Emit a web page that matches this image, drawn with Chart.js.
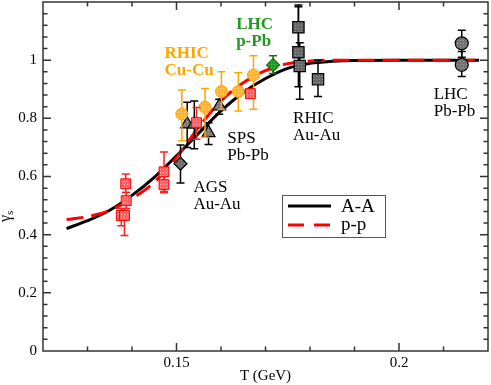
<!DOCTYPE html>
<html lang="en">
<head>
<meta charset="UTF-8">
<title>gamma_s vs T</title>
<script src="https://cdn.jsdelivr.net/npm/chart.js"></script>
<style>
  html, body { margin: 0; padding: 0; background: #fff; }
  #chart { display: block; }
</style>
</head>
<body>
<canvas id="chart" width="491" height="385"></canvas>
<script>
// fitted curves
const curveT  = [0.1253, 0.130, 0.135, 0.140, 0.145, 0.150, 0.155, 0.160, 0.165, 0.170, 0.175, 0.180, 0.185, 0.190, 0.200, 0.210, 0.218];
const aaCurve = [0.421, 0.448, 0.484, 0.535, 0.597, 0.671, 0.749, 0.826, 0.889, 0.937, 0.972, 0.989, 0.996, 0.999, 1.0, 1.0, 1.0];
const ppCurve = [0.452, 0.462, 0.483, 0.524, 0.580, 0.665, 0.770, 0.860, 0.922, 0.964, 0.988, 0.997, 1.0, 1.0, 1.0, 1.0, 1.0];

// p-p points (red squares)
const ppT    = [0.1376, 0.1383, 0.1387, 0.1386, 0.1472, 0.1472, 0.1545, 0.1666];
const ppG    = [0.466, 0.466, 0.517, 0.575, 0.616, 0.572, 0.785, 0.885];
const ppUp   = [0.490, 0.490, 0.545, 0.609, 0.684, 0.600, 0.837, 0.895];
const ppDown = [0.431, 0.397, 0.490, 0.545, 0.548, 0.544, 0.728, 0.875];

// RHIC Cu-Cu (orange circles)
const ccT    = [0.1512, 0.1564, 0.1601, 0.1639, 0.1673];
const ccG    = [0.815, 0.838, 0.892, 0.892, 0.949];
const ccUp   = [0.897, 0.903, 0.960, 0.957, 1.015];
const ccDown = [0.723, 0.735, 0.830, 0.825, 0.831];

// SPS Pb-Pb (triangles)
const spsT    = [0.1524, 0.1540, 0.1572, 0.1596];
const spsG    = [0.780, 0.780, 0.750, 0.842];
const spsUp   = [0.855, 0.860, 0.785, 0.866];
const spsDown = [0.700, 0.695, 0.710, 0.814];

// AGS Au-Au (diamond)
const agsT = [0.1509], agsG = [0.644], agsUp = [0.708], agsDown = [0.578];

// LHC p-Pb (green diamond)
const lhcpT = [0.1717], lhcpG = [0.983], lhcpUp = [1.015], lhcpDown = [0.954];

// RHIC Au-Au (dark squares)
const rhicT    = [0.1774, 0.1774, 0.1777, 0.1818];
const rhicG    = [1.113, 1.027, 0.980, 0.934];
const rhicUp   = [1.190, 1.184, 1.060, 1.000];
const rhicDown = [1.035, 0.909, 0.866, 0.875];

// LHC Pb-Pb (grey circles)
const lhcT    = [0.2141, 0.2141];
const lhcG    = [1.058, 0.984];
const lhcUp   = [1.103, 1.030];
const lhcDown = [1.010, 0.944];

// axis ticks
const xMajor = [0.15, 0.2];
const yMajor = [0, 0.2, 0.4, 0.6, 0.8, 1];

const SERIF = "'Liberation Serif', 'Times New Roman', serif";

// text labels placed in data coordinates
const notes = [
  { lines: ['RHIC', 'Cu-Cu'], x: 0.1473, y: 1.0086, color: '#ffa500', bold: true },
  { lines: ['LHC', 'p-Pb'],   x: 0.1634, y: 1.1086, color: '#229922', bold: true },
  { lines: ['SPS', 'Pb-Pb'],  x: 0.1614, y: 0.7138, color: '#000', bold: false },
  { lines: ['AGS', 'Au-Au'],  x: 0.1538, y: 0.5466, color: '#000', bold: false },
  { lines: ['RHIC', 'Au-Au'], x: 0.1762, y: 0.7852, color: '#000', bold: false },
  { lines: ['LHC', 'Pb-Pb'],  x: 0.2078, y: 0.8655, color: '#000', bold: false }
];

function pts(xs, ys) { return xs.map((x, i) => ({ x: x, y: ys[i] })); }

function isIn(list, v) { return list.some(t => Math.abs(t - v) < 1e-9); }

function dotPattern(base, dot) {
  const c = document.createElement('canvas');
  c.width = 3; c.height = 3;
  const g = c.getContext('2d');
  g.fillStyle = base; g.fillRect(0, 0, 3, 3);
  g.fillStyle = dot; g.fillRect(1, 1, 1, 1);
  return g.createPattern(c, 'repeat');
}

function markers(label, xs, ys, up, down, style) {
  return Object.assign({
    label: label,
    data: pts(xs, ys),
    showLine: false,
    errUp: up,
    errDown: down,
    order: 1
  }, style);
}

// error bars drawn just before each dataset's markers
const errorBars = {
  id: 'errorBars',
  beforeDatasetDraw(chart, args) {
    const ds = chart.data.datasets[args.index];
    if (!ds.errUp) return;
    const ctx = chart.ctx, xs = chart.scales.x, ys = chart.scales.y;
    ctx.save();
    ctx.strokeStyle = ds.errColor;
    ctx.lineWidth = 1.5;
    ds.data.forEach((p, i) => {
      const x = xs.getPixelForValue(p.x);
      const yt = ys.getPixelForValue(ds.errUp[i]);
      const yb = ys.getPixelForValue(ds.errDown[i]);
      ctx.beginPath();
      ctx.moveTo(x, yt); ctx.lineTo(x, yb);
      ctx.moveTo(x - 4, yt); ctx.lineTo(x + 4, yt);
      ctx.moveTo(x - 4, yb); ctx.lineTo(x + 4, yb);
      ctx.stroke();
    });
    ctx.restore();
  }
};

// frame, inward ticks, labels, legend, y title
const decor = {
  id: 'decor',
  beforeDatasetsDraw(chart) {
    const ctx = chart.ctx, xs = chart.scales.x, ys = chart.scales.y;
    ctx.save();
    ctx.textAlign = 'left';
    ctx.textBaseline = 'alphabetic';
    notes.forEach(n => {
      ctx.fillStyle = n.color;
      ctx.font = (n.bold ? 'bold ' : '') + '17px ' + SERIF;
      const x = xs.getPixelForValue(n.x);
      const y = ys.getPixelForValue(n.y);
      n.lines.forEach((t, k) => ctx.fillText(t, x, y + k * 17));
    });
    ctx.restore();
  },
  afterDatasetsDraw(chart) {
    const ctx = chart.ctx, a = chart.chartArea;
    const xs = chart.scales.x, ys = chart.scales.y;
    ctx.save();
    ctx.strokeStyle = '#333';
    ctx.lineWidth = 1.5;
    ctx.strokeRect(a.left, a.top, a.right - a.left, a.bottom - a.top);

    ctx.beginPath();
    for (let k = 13; k <= 21; k++) {
      const v = k / 100;
      const len = isIn(xMajor, v) ? 8 : 4.5;
      const px = xs.getPixelForValue(v);
      ctx.moveTo(px, a.bottom); ctx.lineTo(px, a.bottom - len);
      ctx.moveTo(px, a.top); ctx.lineTo(px, a.top + len);
    }
    for (let k = 1; k <= 29; k++) {
      const v = k * 0.04;
      const len = k % 5 === 0 ? 8 : 4.5;
      const py = ys.getPixelForValue(v);
      ctx.moveTo(a.left, py); ctx.lineTo(a.left + len, py);
      ctx.moveTo(a.right, py); ctx.lineTo(a.right - len, py);
    }
    ctx.stroke();

    // legend box
    const lx = 282, ly = 195, lw = 103, lh = 42;
    ctx.fillStyle = '#fff';
    ctx.fillRect(lx, ly, lw, lh);
    ctx.strokeStyle = '#555';
    ctx.lineWidth = 1;
    ctx.strokeRect(lx + 0.5, ly + 0.5, lw, lh);
    ctx.lineWidth = 3;
    ctx.strokeStyle = '#000';
    ctx.beginPath(); ctx.moveTo(288, 206); ctx.lineTo(331, 206); ctx.stroke();
    ctx.strokeStyle = '#ff0000';
    ctx.setLineDash([16, 10]);
    ctx.beginPath(); ctx.moveTo(288, 225); ctx.lineTo(331, 225); ctx.stroke();
    ctx.setLineDash([]);
    ctx.fillStyle = '#000';
    ctx.font = '19px ' + SERIF;
    ctx.textBaseline = 'middle';
    ctx.fillText('A-A', 341, 207);
    ctx.fillText('p-p', 341, 225);

    // axis titles
    ctx.textBaseline = 'alphabetic';
    ctx.textAlign = 'center';
    ctx.font = '15px ' + SERIF;
    ctx.fillText('T (GeV)', (a.left + a.right) / 2, 380);

    ctx.translate(10, 222);
    ctx.rotate(-Math.PI / 2);
    ctx.textAlign = 'left';
    ctx.font = '16px ' + SERIF;
    ctx.fillText('\u03b3', 0, 0);
    const w = ctx.measureText('\u03b3').width;
    ctx.font = '11px ' + SERIF;
    ctx.fillText('s', w, 3);
    ctx.restore();
  }
};

new Chart(document.getElementById('chart').getContext('2d'), {
  type: 'scatter',
  data: {
    datasets: [
      markers('p-p data', ppT, ppG, ppUp, ppDown, {
        pointStyle: 'rect', pointRadius: 7, borderWidth: 1,
        backgroundColor: dotPattern('#ff6464', '#ffb4b4'), borderColor: '#ff0000', errColor: '#ff2020'
      }),
      markers('RHIC Cu-Cu', ccT, ccG, ccUp, ccDown, {
        pointStyle: 'circle', pointRadius: 6, borderWidth: 1,
        backgroundColor: dotPattern('#ffb534', '#ffdc9a'), borderColor: '#ffa500', errColor: '#ffa500'
      }),
      markers('SPS Pb-Pb', spsT, spsG, spsUp, spsDown, {
        pointStyle: 'triangle', pointRadius: 7.5, borderWidth: 1.2,
        backgroundColor: dotPattern('#7a7a7a', '#a8a8a8'), borderColor: '#000', errColor: '#000'
      }),
      markers('AGS Au-Au', agsT, agsG, agsUp, agsDown, {
        pointStyle: 'rectRot', pointRadius: 6.5, borderWidth: 1.2,
        backgroundColor: dotPattern('#6c6c6c', '#999'), borderColor: '#000', errColor: '#000'
      }),
      markers('LHC p-Pb', lhcpT, lhcpG, lhcpUp, lhcpDown, {
        pointStyle: 'rectRot', pointRadius: 6.5, borderWidth: 1.2,
        backgroundColor: dotPattern('#239a23', '#5cc05c'), borderColor: '#117011', errColor: '#117011'
      }),
      markers('RHIC Au-Au', rhicT, rhicG, rhicUp, rhicDown, {
        pointStyle: 'rect', pointRadius: 8, borderWidth: 1.2,
        backgroundColor: dotPattern('#666', '#9a9a9a'), borderColor: '#000', errColor: '#000'
      }),
      markers('LHC Pb-Pb', lhcT, lhcG, lhcUp, lhcDown, {
        pointStyle: 'circle', pointRadius: 6.5, borderWidth: 1.2,
        backgroundColor: dotPattern('#737373', '#a4a4a4'), borderColor: '#000', errColor: '#000'
      }),
      {
        label: 'p-p', data: pts(curveT, ppCurve), showLine: true, pointRadius: 0,
        borderColor: '#ff0000', borderWidth: 3, borderDash: [17, 8],
        cubicInterpolationMode: 'monotone', order: 9
      },
      {
        label: 'A-A', data: pts(curveT, aaCurve), showLine: true, pointRadius: 0,
        borderColor: '#000', borderWidth: 3,
        cubicInterpolationMode: 'monotone', order: 10
      }
    ]
  },
  options: {
    responsive: false,
    animation: false,
    layout: { autoPadding: false, padding: { top: 2, right: 2, left: 0, bottom: 0 } },
    plugins: { legend: { display: false }, tooltip: { enabled: false } },
    scales: {
      x: {
        type: 'linear', min: 0.12, max: 0.22,
        afterFit(s) { s.height = 34; },
        grid: { display: false, drawTicks: false, tickLength: 0 },
        border: { display: false },
        ticks: {
          stepSize: 0.01, autoSkip: false, maxRotation: 0, padding: 3,
          color: '#000',
          font: c => ({ family: SERIF, size: c.tick && isIn(xMajor, c.tick.value) ? 15 : 1 }),
          callback: v => (isIn(xMajor, v) ? String(Math.round(v * 100) / 100) : '')
        }
      },
      y: {
        type: 'linear', min: 0, max: 1.2,
        afterFit(s) { s.width = 43; },
        grid: { display: false, drawTicks: true, tickLength: 6 },
        border: { display: false },
        ticks: {
          stepSize: 0.2, autoSkip: false, padding: 0,
          color: '#000',
          font: c => ({ family: SERIF, size: c.tick && isIn(yMajor, c.tick.value) ? 15 : 1 }),
          callback: v => (isIn(yMajor, v) ? String(Math.round(v * 10) / 10) : '')
        }
      }
    }
  },
  plugins: [errorBars, decor]
});
</script>
</body>
</html>
